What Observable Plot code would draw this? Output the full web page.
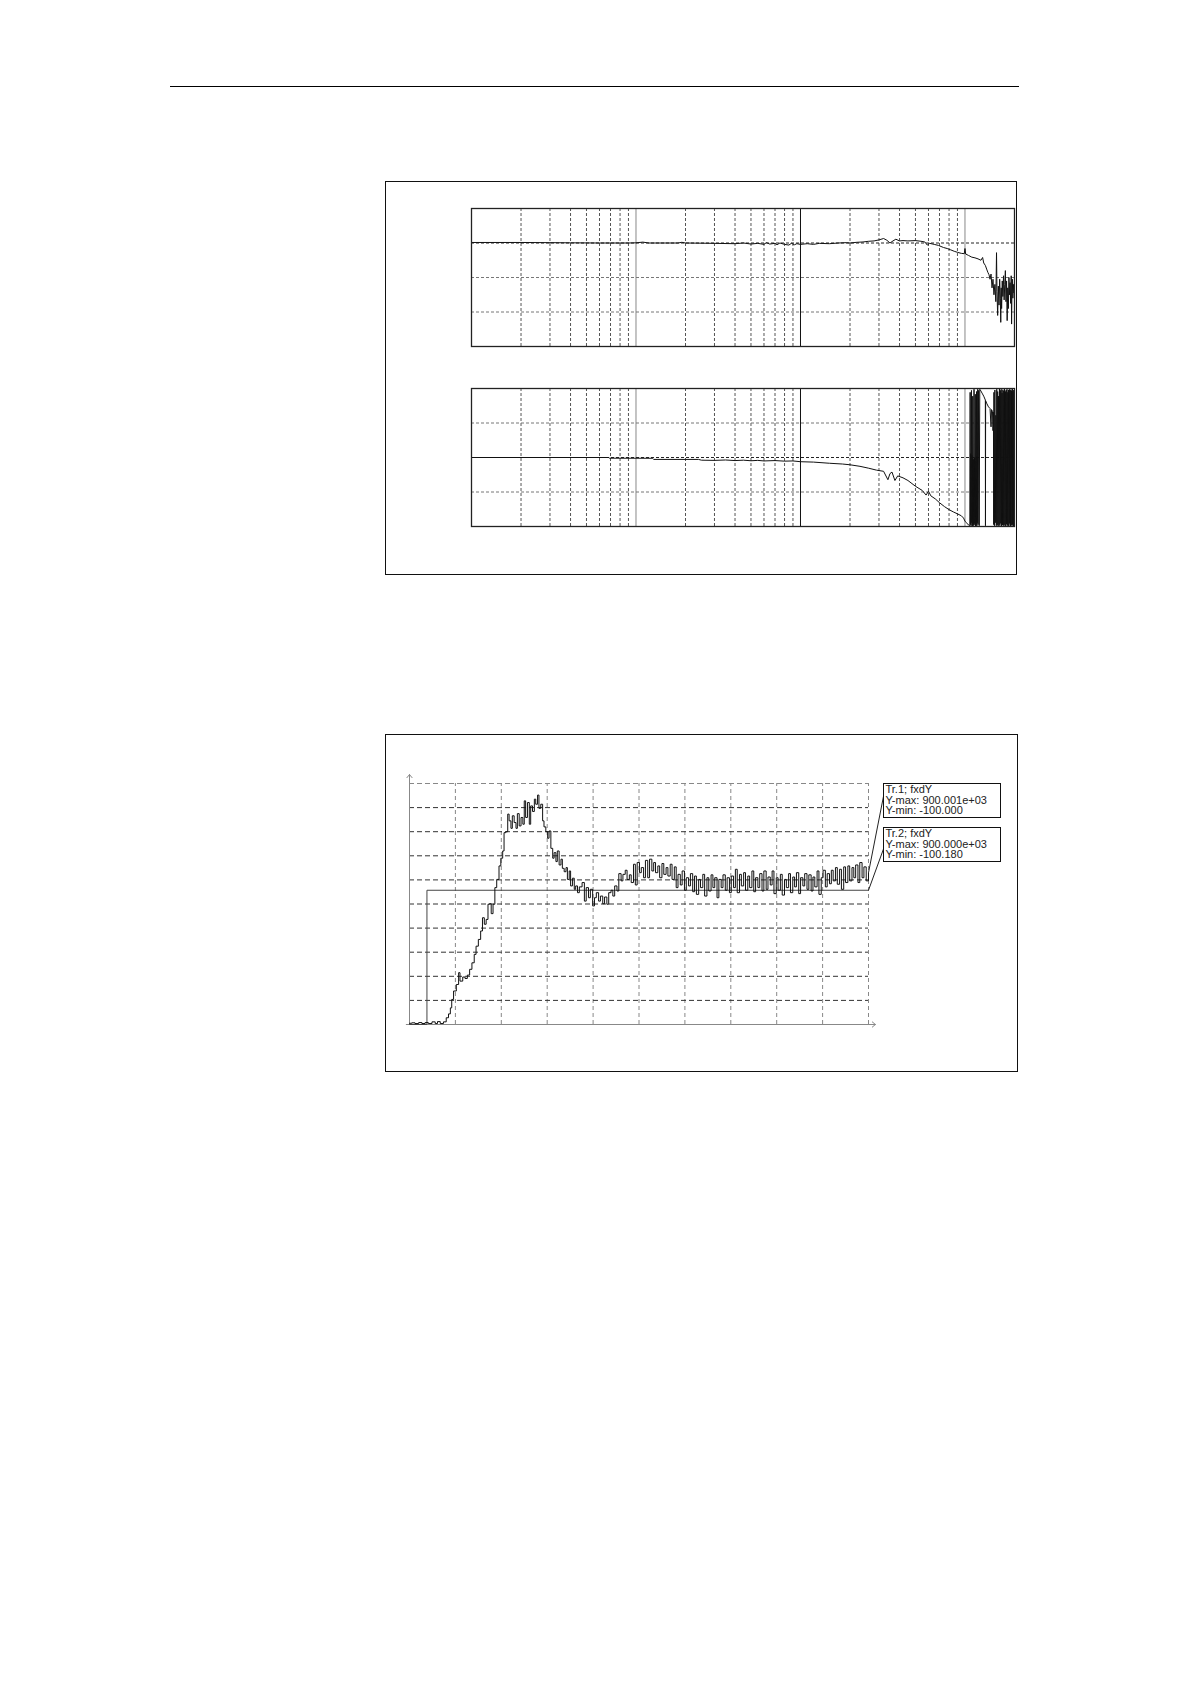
<!DOCTYPE html>
<html><head><meta charset="utf-8">
<script src="https://cdn.jsdelivr.net/npm/d3@7"></script>
<script src="https://cdn.jsdelivr.net/npm/@observablehq/plot@0.6"></script>
<style>
html,body{margin:0;padding:0;background:#fff;}
#page{position:relative;width:1190px;height:1684px;overflow:hidden;background:#fff;}
.abs{position:absolute;}
.rule{left:170px;top:86px;width:849px;height:0;border-top:1.5px solid #000;}
.box{border:1.5px solid #111;box-sizing:border-box;}
.leg{position:absolute;border:1px solid #111;box-sizing:border-box;background:#fff;font-family:"Liberation Sans",Arial,sans-serif;font-size:11px;line-height:10.7px;color:#222;padding:0 0 0 2px;white-space:nowrap;overflow:hidden;}
</style></head><body><div id="page">
<div class="abs rule"></div>
<div class="abs box" style="left:385px;top:181px;width:632px;height:394px;"></div>
<div class="abs box" style="left:385px;top:734px;width:633px;height:338px;"></div>
</div>
<script>
// ---------- frequency response: grid ----------
const minorFreqs = [2,3,4,5,6,7,8,9,20,30,40,50,60,70,80,90,200,300,400,500,600,700,800,900];
const decadeFreqs = [10,100,1000];
const ampGrid = [0,-10,-20];
const phaseGrid = [90,0,-90];

// ---------- amplitude (dB) ----------
const ampFreq = [1,2,3,4,6,9,10,11,12,18,19,20,30,40,45,50,55,60,62,65,70,72,75,80,85,88,92,95,100,
  110,120,130,150,170,190,200,220,240,260,280,300,320,335,350,365,380,400,420,450,500,540,570,590,610,
  650,690,740,780,820,860,900,950,990,1000,1010,1050,1100,1150,1200,1250,1280,1300,1330,1360,1380,1400,
  1420,1440,1460,1480,1500,1520,1540,1555,1565,1580,1595,1610,1625,1640,1650,1660,1670,1685,1700,1715,
  1730,1745,1760,1775,1790,1805,1820,1835,1850,1865,1880,1895,1910,1920,1930,1940,1955,1970,1985,2000];
const ampDb = [0.15,0.15,0.1,0.05,0,0,0.05,0.25,0,0,0.2,0,-0.1,-0.2,0,-0.3,-0.1,-0.4,0.1,-0.3,-0.1,-0.5,0,-0.4,-0.6,-0.1,-0.5,-0.2,-0.4,
  -0.2,-0.4,-0.1,-0.2,0,0.1,0,0.2,0.3,0.5,0.6,0.9,1.3,0.8,0,0.6,1.1,0.6,0.7,0.6,0.7,0.5,0.3,-0.6,-0.1,
  -0.4,-0.7,-1.3,-1.6,-2.0,-2.4,-2.7,-3.0,-3.1,-1.6,-3.2,-3.6,-4.1,-4.3,-4.6,-5.0,-4.2,-5.8,-6.5,-7.8,-8.6,-9.2,
  -10.5,-9.0,-13.0,-10.5,-15.0,-12.0,-17.0,-2.8,-14.0,-21.0,-12.5,-18.0,-10.5,-16.0,-23.0,-13.0,-19.0,-11.0,-15.5,-9.5,
  -16.5,-12.0,-8.0,-17.0,-11.0,-22.5,-13.0,-19.0,-10.0,-15.0,-11.5,-17.5,-9.5,-23.5,-14.0,-10.5,-16.0,-12.0,-14.5,-11.0];

// ---------- phase (deg) ----------
const phaseFreq = [1,3,6.8,6.9,12.6,12.8,24,25,30,35,40,45,50,55,60,70,80,90,100,120,150,180,200,230,260,290,320,
  340,350,360,375,390,420,450,500,550,580,600,620,660,700,750,800,850,900,950,980,1000,1020,1050,1070,
  1075,1080,1085,1090,1095,1100,1105,1110,1115,1120,1125,1130,1135,1140,1145,1150,1155,1160,1165,1170,1175,1180,
  1185,1190,1195,1200,1210,1220,1230,1240,1270,1300,1330,1332,1335,1360,1390,1420,1440,1450,1470,1480,
  1489,1495,1500,1510,1520,1530,1540,1550,1560,1570,1580,1590,1600,1610,1620,1630,1640,1650,1660,1670,1680,1690,
  1700,1710,1720,1730,1740,1750,1760,1770,1780,1790,1800,1810,1820,1830,1840,1850,1860,1870,1880,1890,1900,1910,
  1920,1930,1940,1950,1960,1970,1980,1990,2000];
const phaseDeg = [0,0,0,-1.8,-2,-5,-5,-7,-7.5,-6.5,-8,-7,-8.5,-7.5,-9,-8,-9.5,-9,-11,-12,-15,-17,-19,-23,-28,-33,-36,
  -58,-42,-38,-60,-48,-53,-60,-75,-86,-98,-88,-100,-108,-118,-128,-136,-142,-147,-152,-158,-166,-170,-176,-179,
  170,-175,10,-178,175,-170,5,-180,160,-175,-5,-178,178,-172,0,-176,165,-179,-10,-175,172,-180,
  2,-170,178,-175,175,-178,178,176,168,160,150,-178,148,140,132,128,80,125,120,70,
  118,-175,170,-178,176,-170,110,-178,178,-176,172,-179,160,-175,179,-178,175,-172,178,-179,168,-176,
  177,-178,174,-175,179,-178,172,-179,176,-174,178,-177,170,-179,176,-178,178,-172,175,-179,177,-176,
  174,-178,179,-175,172,-179,176,-170,150];

// ---------- step response ----------
const timeGrid = [10,20,30,40,50,60,70,80,90,100];
const levelGrid = [0,100,200,300,400,500,600,700,800,900];
const setT = [0,3.8,100];
const setV = [-100,457,457];
const stepT = [0,0.5,1.2,2.0,2.7,3.4,4.1,4.9,5.6,6.1,6.7,7.4,8.0,8.5,8.9,9.2,9.6,10.2,10.7,11.0,11.6,12.1,12.6,13.1,13.6,14.1,14.5,15.0,15.5,15.9,
  16.3,16.7,17.1,17.4,17.8,18.2,18.6,19.0,19.5,19.9,20.3,20.6,21.0,21.4,21.7,22.1,22.4,22.8,23.2,23.5,23.9,24.3,24.7,25.0,25.3,25.7,26.1,26.4,26.8,
  27.2,27.5,27.9,28.2,28.6,29.0,29.3,29.7,30.1,30.4,30.8,31.2,31.5,31.9,32.2,32.6,33.0,33.3,33.7,34.1,34.4,34.8,35.1,35.5,35.9,36.2,36.6,37.0,
  37.6,38.1,38.5,39.0,39.4,39.9,40.3,40.7,41.2,41.6,42.1,42.5,43.0,43.4,43.9,44.3,44.7,45.2,45.6,46.1,46.5,47.0,47.4,47.9,48.3,48.8,49.2,49.6,
  50.1,50.5,51.0,51.4,51.9,52.3,52.8,53.2,53.6,54.1,54.5,55.0,55.4,55.9,56.3,56.8,57.2,57.7,58.1,58.5,59.0,59.4,59.9,60.3,60.8,61.2,61.7,62.1,
  62.5,63.0,63.4,63.9,64.3,64.8,65.2,65.7,66.1,66.5,67.0,67.4,67.9,68.3,68.8,69.2,69.7,70.1,70.6,71.0,71.4,71.9,72.3,72.8,73.2,73.7,74.1,74.6,
  75.0,75.4,75.9,76.3,76.8,77.2,77.7,78.1,78.6,79.0,79.4,79.9,80.3,80.8,81.2,81.7,82.1,82.6,83.0,83.5,83.9,84.3,84.8,85.2,85.7,86.1,86.6,87.0,
  87.5,87.9,88.3,88.8,89.2,89.7,90.1,90.6,91.0,91.5,91.9,92.3,92.8,93.2,93.7,94.1,94.6,95.0,95.5,95.9,96.4,96.8,97.2,97.7,98.1,98.6,99.0,99.5,100];
const stepV = [-95,-93,-96,-92,-96,-92,-96,-89,-96,-88,-96,-89,-72,-56,-31,4,39,66,115,80,97,91,105,129,156,191,225,253,288,343,
  316,336,399,401,360,399,468,502,558,590,620,696,700,773,745,714,766,738,714,775,724,759,731,828,759,821,731,807,784,
  835,814,852,797,814,745,720,700,673,703,631,590,613,576,620,562,586,548,534,551,502,537,475,507,461,475,447,471,
  489,412,468,426,461,392,426,447,412,433,401,429,399,447,457,433,475,454,526,496,523,540,502,521,489,565,479,572,
  530,551,509,581,509,586,537,572,530,558,509,568,523,551,516,565,502,554,468,523,479,537,457,509,475,526,451,516,
  440,502,468,523,433,509,454,521,468,509,426,502,468,521,457,509,447,516,468,544,447,523,475,530,457,516,468,537,
  451,509,468,526,454,537,461,512,479,537,443,509,457,523,437,502,468,526,447,512,471,530,443,509,475,526,461,521,
  454,512,471,537,440,509,540,471,526,484,540,496,551,482,544,461,554,489,558,496,551,509,562,489,572,509,554,496,530];
const legendT = [103.3,103.7];
const legendV = [850,651];

// ---------- build ----------
const page = document.getElementById("page");
function place(svg, left, top) {
  svg.style.position = "absolute";
  svg.style.left = left + "px";
  svg.style.top = top + "px";
  svg.style.background = "transparent";
  svg.style.overflow = "visible";
  page.appendChild(svg);
}

const ampData = ampFreq.map((f, i) => ({f, v: ampDb[i]}));
const phaseData = phaseFreq.map((f, i) => ({f, v: phaseDeg[i]}));

function freqPanel(data, yDomain, yGrid) {
  return Plot.plot({
    width: 553, height: 148,
    marginTop: 5, marginBottom: 5, marginLeft: 5, marginRight: 5,
    x: {type: "log", domain: [1, 2000], axis: null},
    y: {domain: yDomain, axis: null},
    marks: [
      Plot.ruleX(minorFreqs, {stroke: "#555", strokeWidth: 1, strokeDasharray: "3,2"}),
      Plot.ruleX(decadeFreqs, {stroke: d => d === 100 ? "#111" : "#888", strokeWidth: 1}),
      Plot.ruleY(yGrid, {stroke: d => d === 0 ? "#222" : "#777", strokeWidth: 1, strokeDasharray: "3,2"}),
      Plot.line(data, {x: "f", y: "v", stroke: "#111", strokeWidth: 1}),
      Plot.frame({stroke: "#222", strokeWidth: 1.3})
    ]
  });
}

place(freqPanel(ampData, [-30, 10], ampGrid), 466, 203);
place(freqPanel(phaseData, [-180, 180], phaseGrid), 466, 383);

const setData = setT.map((t, i) => ({t, v: setV[i]}));
const trace = stepT.map((t, i) => ({t, v: stepV[i]}));
const axesLines = [
  {x1: 0, y1: -100, x2: 0, y2: 937},
  {x1: -0.7, y1: -100, x2: 101.5, y2: -100}
];
const leaders = [
  {x1: stepT[stepT.length - 1], y1: stepV[stepV.length - 1], x2: legendT[0], y2: legendV[0]},
  {x1: setT[setT.length - 1], y1: setV[setV.length - 1], x2: legendT[1], y2: legendV[1]}
];

const stepPlot = Plot.plot({
  width: 491, height: 273,
  marginTop: 20, marginBottom: 12, marginLeft: 10, marginRight: 22,
  x: {domain: [0, 100], axis: null},
  y: {domain: [-100, 900], axis: null},
  marks: [
    Plot.ruleX(timeGrid, {y1: -100, y2: 900, stroke: "#888", strokeWidth: 1, strokeDasharray: "4,3"}),
    Plot.ruleY(levelGrid, {x1: 0, x2: 100, stroke: d => d === 900 ? "#888" : "#333", strokeWidth: 1, strokeDasharray: "5,3"}),
    Plot.arrow(axesLines, {x1: "x1", y1: "y1", x2: "x2", y2: "y2", stroke: "#888", strokeWidth: 1, headLength: 6, headAngle: 80}),
    Plot.line(setData, {x: "t", y: "v", curve: "step-after", stroke: "#444", strokeWidth: 1}),
    Plot.line(trace, {x: "t", y: "v", curve: "step-after", stroke: "#111", strokeWidth: 1}),
    Plot.link(leaders, {x1: "x1", y1: "y1", x2: "x2", y2: "y2", stroke: "#222", strokeWidth: 1})
  ]
});
place(stepPlot, 399, 763);

// legend boxes
const legendLines = [
  ["Tr.1; fxdY", "Y-max: 900.001e+03", "Y-min: -100.000"],
  ["Tr.2; fxdY", "Y-max: 900.000e+03", "Y-min: -100.180"]
];
const legendTops = [783, 827];
legendLines.forEach((lines, i) => {
  const d = document.createElement("div");
  d.className = "leg";
  d.style.left = "882.5px";
  d.style.top = legendTops[i] + "px";
  d.style.width = "118px";
  d.style.height = "35px";
  lines.forEach(s => { const l = document.createElement("div"); l.textContent = s; d.appendChild(l); });
  page.appendChild(d);
});
</script>
</body></html>
